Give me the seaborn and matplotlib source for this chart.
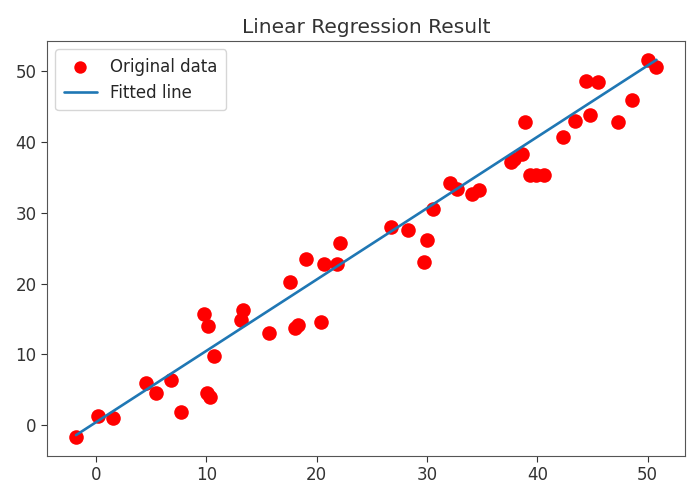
import numpy as np
import pandas as pd
import matplotlib
matplotlib.use("Agg")
import matplotlib.pyplot as plt
import seaborn as sns

# valores
x_dados = [-1.83, 0.12, 1.53, 4.56, 5.46, 6.76, 7.72, 9.79, 10.18, 10.03, 10.33, 10.69,
           13.09, 13.3, 15.64, 17.57, 18.0, 18.3, 18.98, 20.4, 20.7, 21.8, 22.07,
           26.76, 28.3, 29.73, 30.0, 30.57, 32.1, 32.7, 34.05, 34.7, 37.6, 37.9, 38.6,
           38.9, 39.3, 39.9, 40.6, 42.3, 43.4, 44.4, 44.8, 45.5, 47.3, 48.6, 50.06, 50.8]
y_dados = [-1.66, 1.37, 1.04, 6.0, 4.58, 6.42, 1.84, 15.77, 14.0, 4.49, 4.0, 9.73,
           14.8, 16.3, 13.0, 20.3, 13.7, 14.1, 23.56, 14.6, 22.8, 22.8, 25.7,
           28.0, 27.6, 23.0, 26.2, 30.5, 34.2, 33.4, 32.7, 33.3, 37.2, 37.6, 38.3,
           42.8, 35.3, 35.3, 35.4, 40.8, 43.0, 48.7, 43.9, 48.5, 42.8, 46.0, 51.6, 50.6]

# coeficientes da reta ajustada
inclinacao = 1.008
intercepto = 0.44

dados = pd.DataFrame({'x': x_dados, 'y': y_dados})
dados['ajuste'] = intercepto + inclinacao * dados['x']

sns.set_style("ticks")
fig, ax = plt.subplots(figsize=(6.91, 4.88), dpi=100)
fig.subplots_adjust(left=0.068, right=0.992, bottom=0.066, top=0.916)

sns.scatterplot(data=dados, x='x', y='y', color='red', s=110, linewidth=0,
                label='Original data', ax=ax)
sns.lineplot(data=dados, x='x', y='ajuste', color='#1f77b4', linewidth=1.9,
             label='Fitted line', ax=ax)

ax.set_title('Linear Regression Result', fontsize=14.5, color='#333333')
ax.set_xlabel('')
ax.set_ylabel('')
ax.set_xticks([0, 10, 20, 30, 40, 50])
ax.set_yticks([0, 10, 20, 30, 40, 50])
ax.tick_params(labelsize=12, colors='#333333', length=4)
for s in ax.spines.values():
    s.set_color('#555555')
leg = ax.legend(loc='upper left', fontsize=12, frameon=True, borderpad=0.5)
leg.legend_handles[0].set_sizes([80])

plt.savefig('out.png', dpi=100)
